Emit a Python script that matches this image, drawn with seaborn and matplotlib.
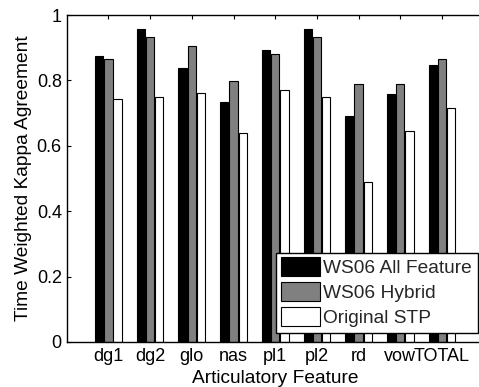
import matplotlib
matplotlib.use("Agg")
import matplotlib.pyplot as plt
import seaborn as sns
import pandas as pd

categories = ["dg1", "dg2", "glo", "nas", "pl1", "pl2", "rd", "vow", "TOTAL"]
series_names = ["WS06 All Feature", "WS06 Hybrid", "Original STP"]
ws06_all = [0.876, 0.957, 0.838, 0.734, 0.894, 0.958, 0.692, 0.758, 0.846]
ws06_hybrid = [0.865, 0.932, 0.904, 0.798, 0.882, 0.934, 0.788, 0.788, 0.864]
original_stp = [0.743, 0.749, 0.761, 0.639, 0.770, 0.749, 0.490, 0.646, 0.717]
colors = ["#000000", "#808080", "#ffffff"]
yticks = [0, 0.2, 0.4, 0.6, 0.8, 1]
ytick_labels = ["0", "0.2", "0.4", "0.6", "0.8", "1"]

rows = []
for name, vals in zip(series_names, [ws06_all, ws06_hybrid, original_stp]):
    for c, v in zip(categories, vals):
        rows.append({"feature": c, "series": name, "value": v})
df = pd.DataFrame(rows)

sns.set_style("white")
plt.rcParams["font.family"] = ["Liberation Sans", "DejaVu Sans"]

fig = plt.figure(figsize=(4.79, 3.87), dpi=100)
ax = fig.add_axes([66.7 / 479, 45 / 387, 417 / 479, 327 / 387])

sns.barplot(data=df, x="feature", y="value", hue="series", order=categories,
            hue_order=series_names, palette=colors, saturation=1,
            width=0.66, gap=0.1, edgecolor="black", linewidth=0.8,
            errorbar=None, ax=ax, legend=True)

ax.set_xlim(-1, 9)
ax.set_ylim(0, 1)
ax.set_yticks(yticks)
ax.set_yticklabels(ytick_labels)

for s in ["top", "left", "bottom", "right"]:
    ax.spines[s].set_visible(True)
    ax.spines[s].set_color("black")
    ax.spines[s].set_linewidth(1.0)

ax.tick_params(axis="x", direction="in", top=True, bottom=True, length=3,
               width=0.8, color="black", labelsize=13, pad=4.5, labelcolor="black")
ax.tick_params(axis="y", direction="in", left=True, right=True, length=3,
               width=0.8, color="black", labelsize=13, pad=3.5, labelcolor="black")

ax.set_xlabel("Articulatory Feature", fontsize=13.8, color="black")
ax.set_ylabel("Time Weighted Kappa Agreement", fontsize=13.8, color="black")
ax.xaxis.set_label_coords(0.5, -0.085)
ax.yaxis.set_label_coords(-0.083, 0.5)

old = ax.get_legend()
handles = old.legend_handles
labels = [t.get_text() for t in old.texts]
old.remove()
leg = ax.legend(handles, labels, loc="lower right", bbox_to_anchor=(0.986, 0.0275),
                borderaxespad=0, fontsize=13.8, frameon=True, fancybox=False,
                edgecolor="black", framealpha=1, handlelength=2.03, handleheight=1.0,
                handletextpad=0.16, borderpad=0.3, labelspacing=0.3)
leg.get_frame().set_linewidth(1.0)
for h in leg.legend_handles:
    h.set_edgecolor("black")
    h.set_linewidth(0.8)
    h0 = h.get_height()
    y0 = h.get_y()
    h.set_height(13.7)
    h.set_y(y0 - (13.7 - h0) / 2)

fig.savefig("out.png", dpi=100)
